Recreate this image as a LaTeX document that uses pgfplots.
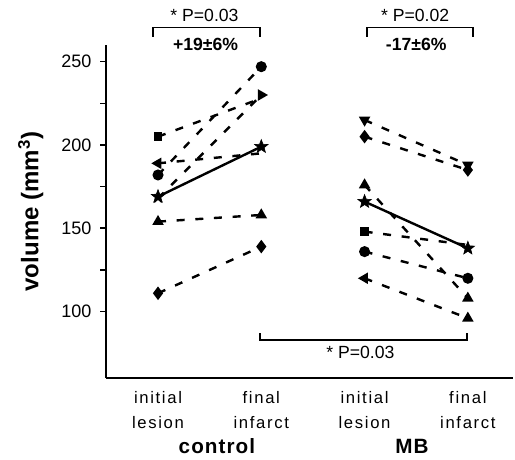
\documentclass[border=0pt]{standalone}
\usepackage{fontspec}
\setmainfont{Liberation Sans}
\newfontfamily\spacedfont[LetterSpace=10]{Liberation Sans}
\newfontfamily\groupfont[LetterSpace=5]{Liberation Sans}
\usepackage{pgfplots}
\pgfplotsset{compat=1.18}

% filled five-point star
\pgfdeclareplotmark{fstar}{%
  \pgfpathmoveto{\pgfpointpolar{90}{1.3\pgfplotmarksize}}%
  \pgfpathlineto{\pgfpointpolar{126}{0.55\pgfplotmarksize}}%
  \pgfpathlineto{\pgfpointpolar{162}{1.3\pgfplotmarksize}}%
  \pgfpathlineto{\pgfpointpolar{198}{0.55\pgfplotmarksize}}%
  \pgfpathlineto{\pgfpointpolar{234}{1.3\pgfplotmarksize}}%
  \pgfpathlineto{\pgfpointpolar{270}{0.55\pgfplotmarksize}}%
  \pgfpathlineto{\pgfpointpolar{306}{1.3\pgfplotmarksize}}%
  \pgfpathlineto{\pgfpointpolar{342}{0.55\pgfplotmarksize}}%
  \pgfpathlineto{\pgfpointpolar{18}{1.3\pgfplotmarksize}}%
  \pgfpathlineto{\pgfpointpolar{54}{0.55\pgfplotmarksize}}%
  \pgfpathclose\pgfusepathqfillstroke}

\begin{document}
\begin{tikzpicture}
\begin{axis}[
    scale only axis,
    width=305pt, height=249.75pt,
    xmin=-0.503, xmax=3.437,
    ymin=60, ymax=260,
    clip=false,
    axis x line*=bottom,
    axis y line*=left,
    axis line style={line width=1.8pt},
    xtick={0,1,2,3},
    xticklabels={initial\\lesion, final\\infarct, initial\\lesion, final\\infarct},
    xticklabel style={align=center, font=\spacedfont\fontsize{12.5}{18.75}\selectfont, yshift=-1.5pt},
    x tick style={draw=none},
    ytick={100,150,200,250},
    minor ytick={125,175,225},
    tick align=outside,
    major tick length=4.5pt,
    minor tick length=4.5pt,
    y tick style={line width=1.2pt, black},
    yticklabel style={font=\fontsize{13.5}{15}\selectfont, xshift=-3pt},
    /pgf/number format/assume math mode=true,
    ylabel={\textbf{volume (mm\textsuperscript{3})}},
    ylabel style={font=\fontsize{18}{20}\selectfont, at={(axis description cs:-0.185,0.5)}, anchor=center},
    every axis plot/.append style={black, line width=1.8pt},
    mark size=3.2pt,
]

% control group, individual animals
\addplot[dashed, dash pattern=on 6pt off 8pt] coordinates {(0,205) (1,228)};
\addplot[dashed, dash pattern=on 6pt off 8pt] coordinates {(0,182) (1,247)};
\addplot[dashed, dash pattern=on 6pt off 8pt] coordinates {(0,189) (1,195)};
\addplot[dashed, dash pattern=on 6pt off 8pt] coordinates {(0,168) (1,230)};
\addplot[dashed, dash pattern=on 6pt off 8pt] coordinates {(0,154) (1,158)};
\addplot[dashed, dash pattern=on 6pt off 8pt] coordinates {(0,111) (1,139)};
% control mean
\addplot[solid] coordinates {(0,169) (1,199)};

% MB group, individual animals
\addplot[dashed, dash pattern=on 6pt off 8pt] coordinates {(2,215) (3,188)};
\addplot[dashed, dash pattern=on 6pt off 8pt] coordinates {(2,205) (3,185)};
\addplot[dashed, dash pattern=on 6pt off 8pt] coordinates {(2,176) (3,108)};
\addplot[dashed, dash pattern=on 6pt off 8pt] coordinates {(2,148) (3,140)};
\addplot[dashed, dash pattern=on 6pt off 8pt] coordinates {(2,136) (3,120)};
\addplot[dashed, dash pattern=on 6pt off 8pt] coordinates {(2,120) (3,96)};
% MB mean
\addplot[solid] coordinates {(2,166) (3,138)};

% markers
\addplot[only marks, mark=square*, mark size=2.3pt] coordinates {(0,205) (2,148)};
\addplot[only marks, mark=*] coordinates {(0,182) (1,247) (2,136) (3,120)};
\addplot[only marks, mark=triangle*, mark options={rotate=90}] coordinates {(0,189) (2,120)};
\addplot[only marks, mark=triangle*, mark options={rotate=-90}] coordinates {(1,230)};
\addplot[only marks, mark=triangle*, mark options={rotate=-120}] coordinates {(3,108) (3,96)};
\addplot[only marks, mark=triangle*, mark options={rotate=180}] coordinates {(2,215) (3,188)};
\addplot[only marks, mark=x, mark size=4pt, line width=1.5pt] coordinates {(0,168)};
\addplot[only marks, mark=triangle*] coordinates {(0,154) (1,158) (2,176)};
\addplot[only marks, mark=diamond*, mark size=3.6pt] coordinates {(0,111) (1,139) (2,205) (3,185)};
\addplot[only marks, mark=fstar, mark size=4pt, line width=0.5pt] coordinates {(0,169) (1,199) (2,166) (3,138)};

% significance brackets
\draw[line width=1.3pt] (axis cs:-0.05,265) |- (axis cs:0.99,270.5) -- (axis cs:0.99,265);
\node[font=\fontsize{13.2}{15}\selectfont] at (axis cs:0.45,277.5) {* P=0.03};
\node[font=\bfseries\fontsize{13.2}{15}\selectfont] at (axis cs:0.46,260.6) {+19±6\%};
\draw[line width=1.3pt] (axis cs:2.02,265) |- (axis cs:3.05,270.5) -- (axis cs:3.05,265);
\node[font=\fontsize{13.2}{15}\selectfont] at (axis cs:2.49,277.5) {* P=0.02};
\node[font=\bfseries\fontsize{13.2}{15}\selectfont] at (axis cs:2.5,260.6) {-17±6\%};
\draw[line width=1.3pt] (axis cs:0.99,87) |- (axis cs:2.99,83) -- (axis cs:2.99,87);
\node[font=\fontsize{13.2}{15}\selectfont] at (axis cs:1.96,75.7) {* P=0.03};

% group labels
\node[font=\groupfont\bfseries\fontsize{15.5}{20}\selectfont] at (axis cs:0.57,19) {control};
\node[font=\groupfont\bfseries\fontsize{15.5}{20}\selectfont] at (axis cs:2.46,19) {MB};

\coordinate (bl) at (rel axis cs:0,0);
\coordinate (tr) at (rel axis cs:1,1);
\end{axis}
\pgfresetboundingbox
\path[use as bounding box] ([xshift=-79.5pt, yshift=-60.75pt]bl) rectangle ([xshift=1.5pt, yshift=33.75pt]tr);
\end{tikzpicture}
\end{document}
